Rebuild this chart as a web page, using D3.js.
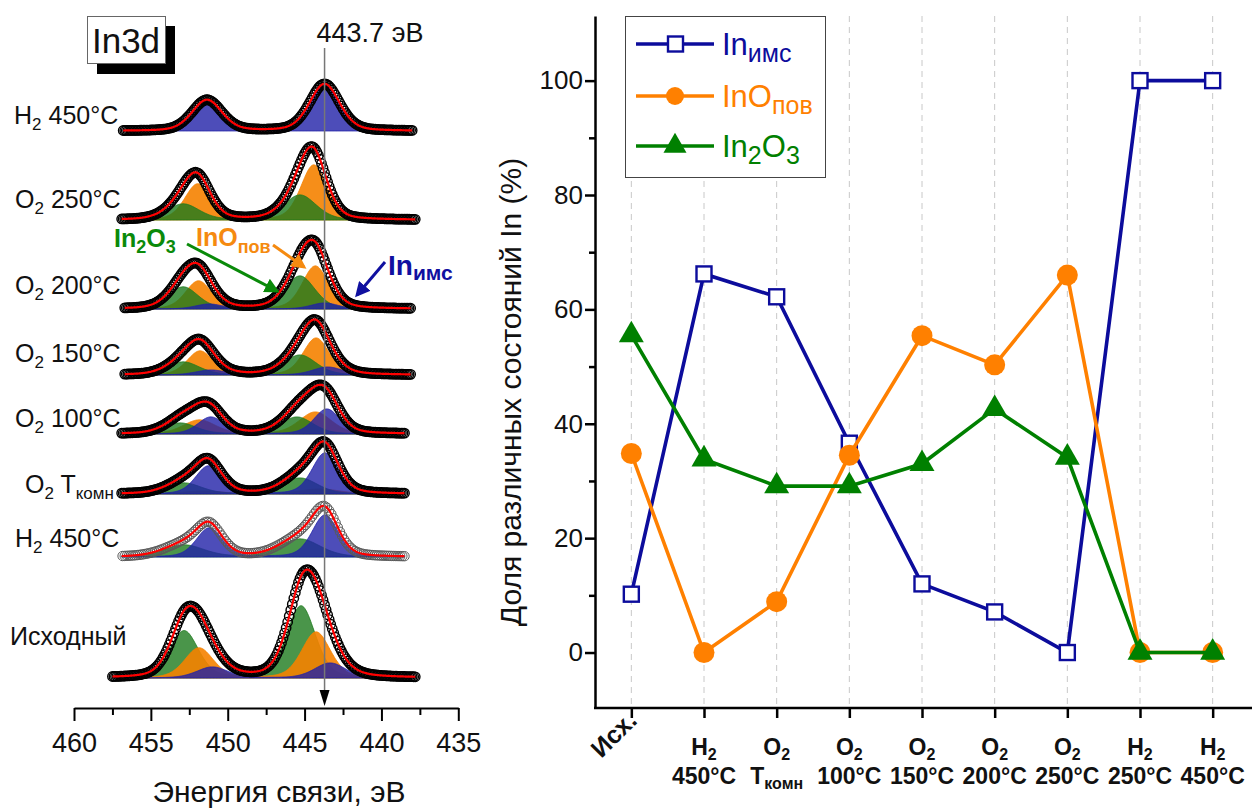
<!DOCTYPE html>
<html>
<head>
<meta charset="utf-8">
<script src="https://cdn.jsdelivr.net/npm/d3@7"></script>
<style>
  body { margin: 0; background: #fff; }
  svg text { font-family: "Liberation Sans", Arial, Helvetica, sans-serif; }
</style>
</head>
<body>
<svg id="chart" width="1252" height="812"></svg>
<script>
// ===================== data: In3d spectra (left panel) =====================
const energyTicks = [460, 455, 450, 445, 440, 435];
const energyMinorTicks = [457.5, 452.5, 447.5, 442.5, 437.5];
const markerEnergy = 443.7;

const spectrumNames = ["Исходный", "H2 450°C", "O2 Tкомн", "O2 100°C", "O2 150°C", "O2 200°C", "O2 250°C", "H2 450°C"];
// vertical stacking offset of each spectrum, a.u.
const spectrumOffsets = [30, 151, 214, 274, 333, 399, 488, 577];
// measured energy window of each spectrum, eV (high, low)
const spectrumRanges = [[457.5, 437.8], [456.9, 438.5], [456.9, 438.5], [456.9, 438.5],
                        [456.7, 438.1], [456.7, 438.1], [456.9, 437.8], [456.8, 438.0]];

// Gaussian-Lorentzian mixing ratio of the fit line shape
const lorentzFraction = 0.3;

// fitted components: [state, FWHM eV, [E 3d5/2, height], [E 3d3/2, height]]
const fitInitial = [
  ["In2O3", 2.2, [445.23, 72], [452.84, 47]],
  ["InO",   2.2, [444.25, 46], [451.87, 30]],
  ["IMC",   2.4, [443.34, 15], [451.00, 11]]
];
const fitH2_450a = [
  ["In2O3", 3.1, [445.30, 18], [452.85, 12]],
  ["IMC",   2.0, [443.67, 42], [451.20, 29]]
];
const fitO2_RT = [
  ["InO",   3.1, [444.00, 5],  [451.60, 3]],
  ["In2O3", 2.7, [445.30, 16], [452.85, 11]],
  ["IMC",   2.0, [443.67, 41], [451.25, 28]]
];
const fitO2_100 = [
  ["InO",   2.5, [444.30, 22], [451.85, 14]],
  ["In2O3", 2.5, [445.50, 17], [453.10, 11]],
  ["IMC",   2.0, [443.55, 25], [451.10, 17]]
];
const fitO2_150 = [
  ["InO",   2.0, [444.25, 37], [451.80, 24]],
  ["In2O3", 2.5, [445.30, 20], [452.90, 13]],
  ["IMC",   2.3, [443.50, 8],  [451.10, 5]]
];
const fitO2_200 = [
  ["InO",   2.0, [444.30, 43], [451.90, 28]],
  ["In2O3", 2.3, [445.30, 33], [452.90, 22]],
  ["IMC",   2.1, [443.70, 6],  [451.20, 5]]
];
const fitO2_250 = [
  ["InO",   2.0, [444.40, 55], [451.95, 36]],
  ["In2O3", 2.5, [445.30, 25], [452.90, 16]]
];
const fitH2_450b = [
  ["IMC",   2.3, [443.70, 47], [451.35, 31]]
];
const spectrumFits = [fitInitial, fitH2_450a, fitO2_RT, fitO2_100, fitO2_150, fitO2_200, fitO2_250, fitH2_450b];

// ===================== data: share of In states (right panel) =====================
const conditions = ["Исх.", "H2 450°C", "O2 Tкомн", "O2 100°C", "O2 150°C", "O2 200°C", "O2 250°C", "H2 250°C", "H2 450°C"];
const shareIMC   = [10.2, 66.2, 62.2, 36.6, 12.0, 7.1, 0, 100, 100];
const shareInO   = [34.8, 0, 8.9, 34.5, 55.4, 50.3, 66.0, 0, 0];
const shareIn2O3 = [55.5, 33.8, 29.1, 29.1, 33.0, 42.6, 34.1, 0, 0];
const shareTicks = [0, 20, 40, 60, 80, 100];
const shareMinorTicks = [10, 30, 50, 70, 90];
const seriesNames = ["Inимс", "InOпов", "In2O3"];

// ===================== helpers =====================
const svg = d3.select("#chart");

// writes a label into a <text>, lowering digits / lowercase Cyrillic that follow a Latin letter
function addRich(textSel, label, subSize, subShift) {
  const tokens = label.split(/(\d+|[а-яё]+)/).filter(t => t.length);
  let prev = "", shifted = false;
  tokens.forEach(tok => {
    const isSub = /^(\d+|[а-яё]+)$/.test(tok) && /[A-Za-z]$/.test(prev);
    const ts = textSel.append("tspan").text(tok);
    if (isSub) { ts.attr("font-size", subSize).attr("dy", subShift); shifted = true; }
    else if (shifted) { ts.attr("dy", -subShift); shifted = false; }
    prev = tok;
  });
  return textSel;
}

// pseudo-Voigt peak
function peak(E, c, h, w) {
  const u = (E - c) * (E - c) / (w * w);
  return h * ((1 - lorentzFraction) * Math.exp(-4 * Math.LN2 * u) + lorentzFraction / (1 + 4 * u));
}
function compValue(comp, E) { return peak(E, comp[2][0], comp[2][1], comp[1]) + peak(E, comp[3][0], comp[3][1], comp[1]); }

// ===================== left panel =====================
const xL = d3.scaleLinear().domain([460, 435]).range([74, 458.3]);
const yL = d3.scaleLinear().domain([0, 700]).range([708, 8]);

const stateFill = { In2O3: "#1d7a1d", InO: "#f58200", IMC: "#2020a8" };
const stateOpacity = { In2O3: 0.8, InO: 0.9, IMC: 0.8 };
const labelLayout = [[10, 645], [15, 547], [25, 493], [15, 427], [15, 362], [15, 294], [15, 208], [14, 124]];

const gSpec = svg.append("g");
spectrumFits.forEach((fit, i) => {
  const base = spectrumOffsets[i];
  const [hi, lo] = spectrumRanges[i];
  const fine = d3.range(lo, hi + 1e-9, 0.05);
  const g = gSpec.append("g");

  fit.forEach(comp => {
    const area = d3.area()
      .x(E => xL(E))
      .y0(yL(base))
      .y1(E => yL(base + compValue(comp, E)));
    g.append("path").attr("d", area(fine))
      .attr("fill", stateFill[comp[0]]).attr("fill-opacity", stateOpacity[comp[0]])
      .attr("stroke", stateFill[comp[0]]).attr("stroke-width", 0.8);
  });

  const envelope = E => d3.sum(fit, comp => compValue(comp, E));
  const light = i === 1;
  const pts = d3.range(lo, hi + 1e-9, light ? 0.14 : 0.1);
  g.selectAll("circle.pt").data(pts).join("circle")
    .attr("cx", E => xL(E)).attr("cy", E => yL(base + envelope(E)))
    .attr("r", 4.7).attr("fill", "none")
    .attr("stroke", light ? "#5a5a5a" : "#000").attr("stroke-width", light ? 1 : 1.4);

  g.append("path")
    .attr("d", d3.line().x(E => xL(E)).y(E => yL(base + envelope(E)))(fine))
    .attr("fill", "none").attr("stroke", "#ff0000").attr("stroke-width", 2.2);

  const t = svg.append("text").attr("x", labelLayout[i][0]).attr("y", labelLayout[i][1])
    .attr("font-size", 25).attr("fill", "#111");
  addRich(t, spectrumNames[i], 17, 6);
});

// reference line at 443.7 eV
const xm = xL(markerEnergy);
svg.append("line").attr("x1", xm).attr("x2", xm).attr("y1", 48).attr("y2", 692)
  .attr("stroke", "#777").attr("stroke-width", 1.5);
svg.append("path").attr("d", `M${xm - 5},690 L${xm + 5},690 L${xm},706 Z`).attr("fill", "#000");
svg.append("text").attr("x", xm - 8).attr("y", 42).attr("font-size", 27).attr("fill", "#111")
  .text(markerEnergy + " эВ");

// energy axis
const axL = svg.append("g").attr("transform", "translate(0,708)")
  .call(d3.axisBottom(xL).tickValues(energyTicks).tickSize(13).tickSizeOuter(0).tickPadding(12).tickFormat(d3.format("d")));
axL.select(".domain").attr("stroke-width", 2);
axL.selectAll(".tick line").attr("stroke-width", 2);
axL.selectAll("text").attr("font-size", 27).attr("fill", "#111")
  .attr("font-family", '"Liberation Sans", Arial, sans-serif');
const axLm = svg.append("g").attr("transform", "translate(0,708)")
  .call(d3.axisBottom(xL).tickValues(energyMinorTicks).tickSize(7).tickFormat(""));
axLm.select(".domain").remove();
axLm.selectAll(".tick line").attr("stroke-width", 2);
svg.append("text").attr("x", 279).attr("y", 802).attr("text-anchor", "middle")
  .attr("font-size", 30).attr("fill", "#111").text("Энергия связи, эВ");

// In3d tag with shadow
svg.append("rect").attr("x", 97).attr("y", 26).attr("width", 78).attr("height", 48).attr("fill", "#000");
svg.append("rect").attr("x", 87.5).attr("y", 16.5).attr("width", 78).attr("height", 47)
  .attr("fill", "#fff").attr("stroke", "#666").attr("stroke-width", 1);
svg.append("text").attr("x", 126).attr("y", 53).attr("text-anchor", "middle")
  .attr("font-size", 35).attr("fill", "#111").text("In3d");

// component annotations
const defs = svg.append("defs");
[["arrG", "#0a8a0a"], ["arrO", "#f58a10"], ["arrB", "#1010a0"]].forEach(([id, c]) => {
  defs.append("marker").attr("id", id).attr("viewBox", "0 0 10 10").attr("refX", 8).attr("refY", 5)
    .attr("markerWidth", 5).attr("markerHeight", 5).attr("markerUnits", "strokeWidth").attr("orient", "auto")
    .append("path").attr("d", "M0,0 L10,5 L0,10 Z").attr("fill", c);
});
svg.append("line").attr("x1", 187).attr("y1", 244).attr("x2", 277).attr("y2", 291)
  .attr("stroke", "#0a8a0a").attr("stroke-width", 3).attr("marker-end", "url(#arrG)");
svg.append("line").attr("x1", 273).attr("y1", 245).attr("x2", 304).attr("y2", 267)
  .attr("stroke", "#f58a10").attr("stroke-width", 3).attr("marker-end", "url(#arrO)");
svg.append("line").attr("x1", 385).attr("y1", 262).attr("x2", 357).attr("y2", 295)
  .attr("stroke", "#1010a0").attr("stroke-width", 3).attr("marker-end", "url(#arrB)");
addRich(svg.append("text").attr("x", 114).attr("y", 247).attr("font-size", 25).attr("font-weight", "bold").attr("fill", "#0a8a0a"), "In2O3", 18, 6);
addRich(svg.append("text").attr("x", 196).attr("y", 246).attr("font-size", 25).attr("font-weight", "bold").attr("fill", "#f58a10"), "InOпов", 18, 7);
addRich(svg.append("text").attr("x", 388).attr("y", 275).attr("font-size", 28).attr("font-weight", "bold").attr("fill", "#1010a0"), "Inимс", 21, 5);

// ===================== right panel =====================
const xR = d3.scalePoint().domain(d3.range(conditions.length)).range([595, 1249]).padding(0.5);
const yR = d3.scaleLinear().domain([-9.7, 111.3]).range([708, 16]);

// vertical dashed grid
svg.append("g").selectAll("line").data(d3.range(conditions.length)).join("line")
  .attr("x1", i => xR(i)).attr("x2", i => xR(i)).attr("y1", 16).attr("y2", 708)
  .attr("stroke", "#c8c8c8").attr("stroke-width", 1).attr("stroke-dasharray", "6,5");

// y axis
const axY = svg.append("g").attr("transform", "translate(595,0)")
  .call(d3.axisLeft(yR).tickValues(shareTicks).tickSize(10).tickSizeOuter(0).tickPadding(2));
axY.select(".domain").attr("stroke-width", 2.5);
axY.selectAll(".tick line").attr("stroke-width", 2.5);
axY.selectAll("text").attr("font-size", 26).attr("fill", "#111")
  .attr("font-family", '"Liberation Sans", Arial, sans-serif');
const axYm = svg.append("g").attr("transform", "translate(595,0)")
  .call(d3.axisLeft(yR).tickValues(shareMinorTicks).tickSize(6).tickFormat(""));
axYm.select(".domain").remove();
axYm.selectAll(".tick line").attr("stroke-width", 2.5);
svg.append("text").attr("transform", "translate(521,392) rotate(-90)").attr("text-anchor", "middle")
  .attr("font-size", 30).attr("fill", "#111").text("Доля различных состояний In (%)");

// x axis
svg.append("line").attr("x1", 594).attr("x2", 1252).attr("y1", 708).attr("y2", 708)
  .attr("stroke", "#000").attr("stroke-width", 2.5);
const axX = svg.append("g").attr("transform", "translate(0,708)")
  .call(d3.axisBottom(xR).tickSize(10).tickSizeOuter(0).tickFormat(""));
axX.select(".domain").remove();
axX.selectAll(".tick line").attr("stroke-width", 2.5);
conditions.forEach((c, i) => {
  const x = xR(i);
  if (i === 0) {
    svg.append("text").attr("transform", `translate(${x + 7},${722}) rotate(-45)`)
      .attr("text-anchor", "end").attr("font-size", 25).attr("font-weight", "bold").attr("fill", "#111")
      .text(c);
    return;
  }
  const [gas, cond] = c.split(" ");
  addRich(svg.append("text").attr("x", x).attr("y", 755).attr("text-anchor", "middle")
    .attr("font-size", 23).attr("font-weight", "bold").attr("fill", "#111"), gas, 16, 5);
  addRich(svg.append("text").attr("x", x).attr("y", 784).attr("text-anchor", "middle")
    .attr("font-size", 23).attr("font-weight", "bold").attr("fill", "#111"), cond, 16, 5);
});

// series
const colBlue = "#0c0c9c", colOrange = "#ff8000", colGreen = "#008000";
const lineGen = d3.line().x((d, i) => xR(i)).y(d => yR(d));
const triSym = d3.symbol(d3.symbolTriangle);

svg.append("path").attr("d", lineGen(shareIMC)).attr("fill", "none").attr("stroke", colBlue).attr("stroke-width", 3.6);
svg.append("g").selectAll("rect").data(shareIMC).join("rect")
  .attr("x", (d, i) => xR(i) - 7.5).attr("y", d => yR(d) - 7.5).attr("width", 15).attr("height", 15)
  .attr("fill", "#fff").attr("stroke", colBlue).attr("stroke-width", 2.4);

svg.append("path").attr("d", lineGen(shareInO)).attr("fill", "none").attr("stroke", colOrange).attr("stroke-width", 3.6);
svg.append("g").selectAll("circle").data(shareInO).join("circle")
  .attr("cx", (d, i) => xR(i)).attr("cy", d => yR(d)).attr("r", 10.5).attr("fill", colOrange);

svg.append("path").attr("d", lineGen(shareIn2O3)).attr("fill", "none").attr("stroke", colGreen).attr("stroke-width", 3.6);
svg.append("g").selectAll("path").data(shareIn2O3).join("path")
  .attr("transform", (d, i) => `translate(${xR(i)},${yR(d)})`)
  .attr("d", triSym.size(270)()).attr("fill", colGreen);

// legend
const lg = svg.append("g");
lg.append("rect").attr("x", 625.5).attr("y", 16.5).attr("width", 200).attr("height", 161)
  .attr("fill", "#fff").attr("stroke", "#444").attr("stroke-width", 1);
const legendColors = [colBlue, colOrange, colGreen];
const legendRows = [44, 96, 146];
seriesNames.forEach((name, k) => {
  const y = legendRows[k], c = legendColors[k];
  lg.append("line").attr("x1", 636).attr("x2", 714).attr("y1", y).attr("y2", y)
    .attr("stroke", c).attr("stroke-width", 3.6);
  if (k === 0) {
    lg.append("rect").attr("x", 668).attr("y", y - 7.5).attr("width", 15).attr("height", 15)
      .attr("fill", "#fff").attr("stroke", c).attr("stroke-width", 2.4);
  } else if (k === 1) {
    lg.append("circle").attr("cx", 675).attr("cy", y).attr("r", 9).attr("fill", c);
  } else {
    lg.append("path").attr("transform", `translate(675,${y})`).attr("d", triSym.size(230)()).attr("fill", c);
  }
  addRich(lg.append("text").attr("x", 722).attr("y", y + 11).attr("font-size", 31).attr("fill", c), name, 25, 7);
});
</script>
</body>
</html>
